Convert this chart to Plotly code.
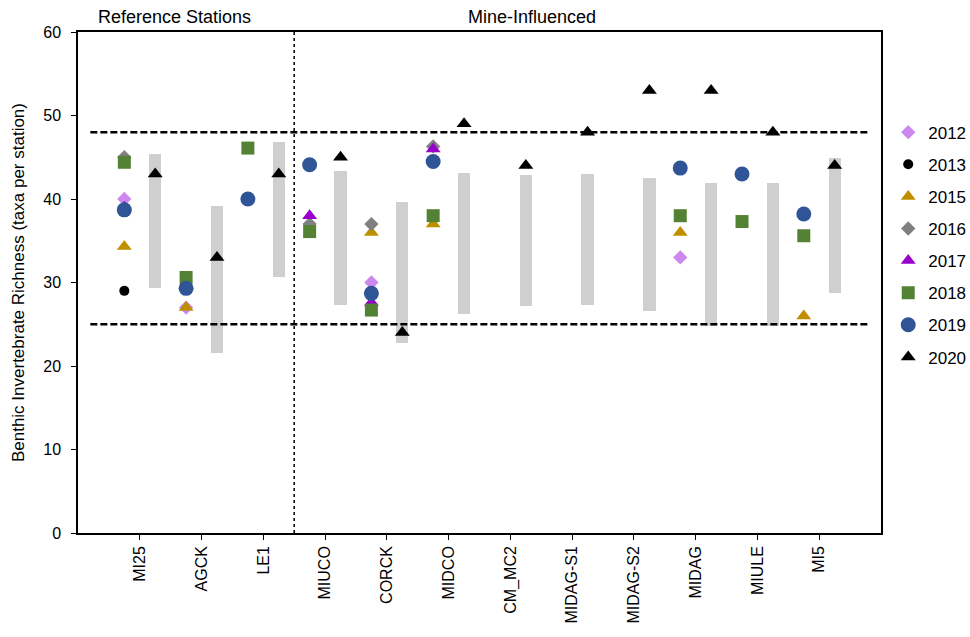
import plotly.graph_objects as go

stations = ["MI25", "AGCK", "LE1", "MIUCO", "CORCK", "MIDCO", "CM_MC2",
            "MIDAG-S1", "MIDAG-S2", "MIDAG", "MIULE", "MI5"]

y2012 = [40, 27, None, None, 30, None, None, None, None, 33, None, None]
y2013 = [29, None, None, None, None, None, None, None, None, None, None, None]
y2015 = [34.3, 27, None, None, 36, 37, None, None, None, 36, None, 26]
y2016 = [45, None, None, 37, 37, 46.3, None, None, None, None, None, None]
y2017 = [39, None, None, 38, 27.6, 46, None, None, None, None, None, None]
y2018 = [44.4, 30.6, 46.1, 36.1, 26.7, 38, None, None, None, 38, 37.3, 35.6]
y2019 = [38.7, 29.3, 40, 44.1, 28.7, 44.5, None, None, None, 43.7, 43, 38.2]
y2020 = [43, 33, 43, 45, 24, 49, 44, 48, 53, 53, 48, 44]

range_low = [29.3, 21.5, 30.6, 27.3, 22.7, 26.2, 27.2, 27.3, 26.6, 24.8, 24.8, 28.7]
range_high = [45.4, 39.2, 46.8, 43.3, 39.6, 43.1, 42.9, 43.0, 42.5, 41.9, 41.9, 44.9]

upper_limit = 48
lower_limit = 25

pos = list(range(1, len(stations) + 1))
pos_left = [p - 0.25 for p in pos]
pos_right = [p + 0.25 for p in pos]

fig = go.Figure()

fig.add_trace(go.Bar(
    x=pos_right, y=[h - l for h, l in zip(range_high, range_low)], base=range_low,
    width=0.2, marker=dict(color="#D0CECE", line=dict(width=0)),
    showlegend=False, hoverinfo="skip"))

series = [
    ("2012", y2012, "diamond", "#CC88EE", 11, pos_left),
    ("2013", y2013, "circle", "#000000", 10, pos_left),
    ("2015", y2015, "triangle-up", "#BF8F00", 13, pos_left),
    ("2016", y2016, "diamond", "#808080", 11, pos_left),
    ("2017", y2017, "triangle-up", "#9900CC", 13, pos_left),
    ("2018", y2018, "square", "#548235", 13, pos_left),
    ("2019", y2019, "circle", "#2F5597", 15, pos_left),
    ("2020", y2020, "triangle-up", "#000000", 13, pos_right),
]
for name, vals, sym, col, sz, xs in series:
    fig.add_trace(go.Scatter(
        x=xs, y=vals, mode="markers", name=name, legendgroup=name,
        marker=dict(symbol=sym, color=col, size=sz, line=dict(width=0))))

fig.add_shape(type="line", x0=0.2, x1=12.8, y0=upper_limit, y1=upper_limit,
              xref="x", yref="y", line=dict(color="black", width=2.5, dash="7px,3px"))
fig.add_shape(type="line", x0=0.2, x1=12.8, y0=lower_limit, y1=lower_limit,
              xref="x", yref="y", line=dict(color="black", width=2.5, dash="7px,3px"))
fig.add_shape(type="line", x0=3.5, x1=3.5, y0=0, y1=60,
              xref="x", yref="y", line=dict(color="black", width=1.5, dash="dot"))

fig.add_annotation(x=1.57, y=1.0, xref="x", yref="paper", yanchor="bottom", yshift=3,
                   text="Reference Stations", showarrow=False,
                   font=dict(family="Arial", size=18, color="black"))
fig.add_annotation(x=7.35, y=1.0, xref="x", yref="paper", yanchor="bottom", yshift=3,
                   text="Mine-Influenced", showarrow=False,
                   font=dict(family="Arial", size=18, color="black"))
fig.add_annotation(x=-0.074, y=0.5, xref="paper", yref="paper",
                   xanchor="center", yanchor="middle", textangle=-90,
                   text="Benthic Invertebrate Richness (taxa per station)", showarrow=False,
                   font=dict(family="Arial", size=17, color="black"))

fig.update_layout(
    width=970, height=637,
    margin=dict(l=78, r=89, t=32, b=104, autoexpand=False),
    paper_bgcolor="white", plot_bgcolor="white",
    font=dict(family="Arial", size=16, color="black"),
    bargap=0,
    legend=dict(x=1.009, y=0.835, xanchor="left", yanchor="top",
                font=dict(family="Arial", size=17, color="black"),
                tracegroupgap=7, itemwidth=30, bgcolor="rgba(0,0,0,0)"),
    xaxis=dict(range=[0, 13], tickvals=pos, ticktext=stations, tickangle=-90,
               showgrid=False, zeroline=False, showline=True, linecolor="black",
               linewidth=1.5, mirror=True, ticks="outside", ticklen=5,
               tickcolor="black", tickfont=dict(size=16, color="black"),
               automargin=False),
    yaxis=dict(range=[0, 60], dtick=10, showgrid=False, zeroline=False,
               showline=True, linecolor="black", linewidth=1.5, mirror=True,
               ticks="outside", ticklen=5, tickcolor="black",
               tickfont=dict(size=16, color="black"), ticklabelstandoff=7,
               automargin=False),
)

fig.write_html("out.html")
